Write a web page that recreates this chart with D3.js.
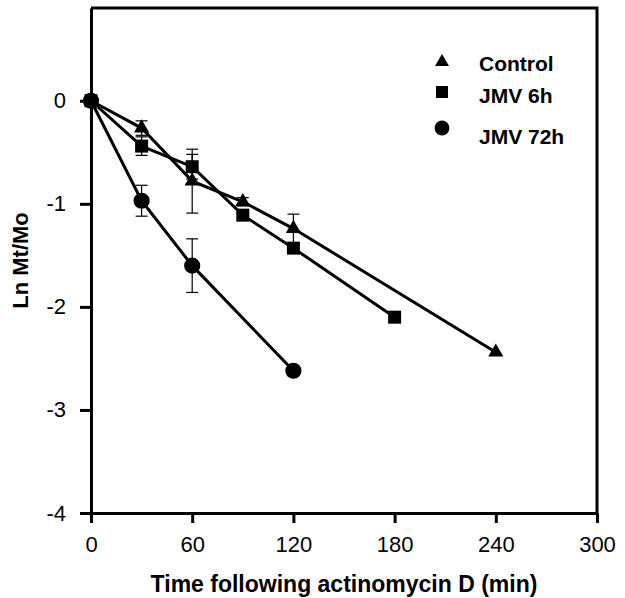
<!DOCTYPE html>
<html>
<head>
<meta charset="utf-8">
<script src="https://cdn.jsdelivr.net/npm/d3@7"></script>
<style>
  body { margin: 0; background: #fff; }
  text { font-family: "Liberation Sans", Arial, sans-serif; }
</style>
</head>
<body>
<script>
var width = 625
var height = 598
var margin = {top: 8, right: 28, bottom: 85, left: 91}

// data
var seriesNames = ['Control', 'JMV 6h', 'JMV 72h']
var controlTime = [0, 30, 60, 90, 120, 240]
var controlValue = [0, -0.265, -0.78, -0.98, -1.24, -2.44]
var controlErr = [0, 0.07, 0.31, 0.04, 0.14, 0]
var jmv6Time = [0, 30, 60, 90, 120, 180]
var jmv6Value = [0, -0.44, -0.64, -1.11, -1.43, -2.10]
var jmv6Err = [0, 0.09, 0.12, 0.03, 0.04, 0]
var jmv72Time = [0, 30, 60, 120]
var jmv72Value = [0, -0.97, -1.60, -2.62]
var jmv72Err = [0, 0.15, 0.26, 0]
var xTicks = [0, 60, 120, 180, 240, 300]
var yTicks = [0, -1, -2, -3, -4]

var series = [
  {name: seriesNames[0], shape: d3.symbolTriangle, size: 100, t: controlTime, v: controlValue, e: controlErr},
  {name: seriesNames[1], shape: d3.symbolSquare, size: 169, t: jmv6Time, v: jmv6Value, e: jmv6Err},
  {name: seriesNames[2], shape: d3.symbolCircle, size: 205, t: jmv72Time, v: jmv72Value, e: jmv72Err}
]
series.forEach(s => { s.points = s.t.map((t, i) => ({t: t, v: s.v[i], e: s.e[i]})) })

var x = d3.scaleLinear()
    .domain([0, 300])
    .range([margin.left, width - margin.right])

var y = d3.scaleLinear()
    .domain([-4, 0.9])
    .range([height - margin.bottom, margin.top])

var svg = d3.select('body').append('svg')
    .attr('width', width)
    .attr('height', height)

// frame top and right
svg.append('path')
    .attr('d', `M${x(0)},${y(0.9)}H${x(300)}V${y(-4)}`)
    .attr('fill', 'none')
    .attr('stroke', '#000')
    .attr('stroke-width', 3)

var xAxis = svg.append('g')
    .attr('transform', `translate(0,${y(-4)})`)
    .call(d3.axisBottom(x).tickValues(xTicks).tickSize(10).tickSizeOuter(0))
xAxis.select('.domain').attr('stroke-width', 3)
xAxis.selectAll('.tick line').attr('stroke-width', 3)
xAxis.selectAll('.tick text')
    .attr('font-size', 22)
    .attr('dy', '1.2em')

// plain hyphen for negatives, like the original
var yFormat = d => d < 0 ? '-' + Math.abs(d) : String(d)

var yAxis = svg.append('g')
    .attr('transform', `translate(${x(0)},0)`)
    .call(d3.axisLeft(y).tickValues(yTicks).tickSize(11).tickFormat(yFormat).tickSizeOuter(0))
yAxis.select('.domain').attr('stroke-width', 3)
yAxis.selectAll('.tick line').attr('stroke-width', 3)
yAxis.selectAll('.tick text')
    .attr('font-size', 22)
    .attr('x', -25)

svg.append('text')
    .attr('x', (x(0) + x(300)) / 2)
    .attr('y', 592)
    .attr('text-anchor', 'middle')
    .attr('font-size', 23)
    .attr('font-weight', 'bold')
    .text('Time following actinomycin D (min)')

svg.append('text')
    .attr('transform', `translate(28,${(y(0.9) + y(-4)) / 2}) rotate(-90)`)
    .attr('text-anchor', 'middle')
    .attr('font-size', 22)
    .attr('font-weight', 'bold')
    .text('Ln Mt/Mo')

var line = d3.line()
    .x(d => x(d.t))
    .y(d => y(d.v))

var g = svg.selectAll('g.series')
    .data(series)
    .enter().append('g')
    .attr('class', 'series')

g.append('path')
    .attr('d', d => line(d.points))
    .attr('fill', 'none')
    .attr('stroke', '#000')
    .attr('stroke-width', 3)

// error bars
var bars = g.selectAll('g.err')
    .data(d => d.points.filter(p => p.e > 0))
    .enter().append('g')
    .attr('class', 'err')
    .attr('stroke', '#000')
    .attr('stroke-width', 1.2)
bars.append('line')
    .attr('x1', d => x(d.t)).attr('x2', d => x(d.t))
    .attr('y1', d => y(d.v + d.e)).attr('y2', d => y(d.v - d.e))
bars.append('line')
    .attr('x1', d => x(d.t) - 6).attr('x2', d => x(d.t) + 6)
    .attr('y1', d => y(d.v + d.e)).attr('y2', d => y(d.v + d.e))
bars.append('line')
    .attr('x1', d => x(d.t) - 6).attr('x2', d => x(d.t) + 6)
    .attr('y1', d => y(d.v - d.e)).attr('y2', d => y(d.v - d.e))

g.each(function(s) {
  d3.select(this).selectAll('path.mark')
      .data(s.points)
      .enter().append('path')
      .attr('class', 'mark')
      .attr('transform', d => `translate(${x(d.t)},${y(d.v)})`)
      .attr('d', d3.symbol().type(s.shape).size(s.size))
      .attr('fill', '#000')
})

// legend
var legendY = [62, 92, 128]
var legendTextY = [71, 103, 144]
var legend = svg.selectAll('g.legend')
    .data(series)
    .enter().append('g')
    .attr('class', 'legend')
legend.append('path')
    .attr('transform', (d, i) => `translate(442,${legendY[i]})`)
    .attr('d', d => d3.symbol().type(d.shape).size(d.size * 0.85)())
    .attr('fill', '#000')
legend.append('text')
    .attr('x', 479)
    .attr('y', (d, i) => legendTextY[i])
    .attr('font-size', 21)
    .attr('font-weight', 'bold')
    .text(d => d.name)
</script>
</body>
</html>
